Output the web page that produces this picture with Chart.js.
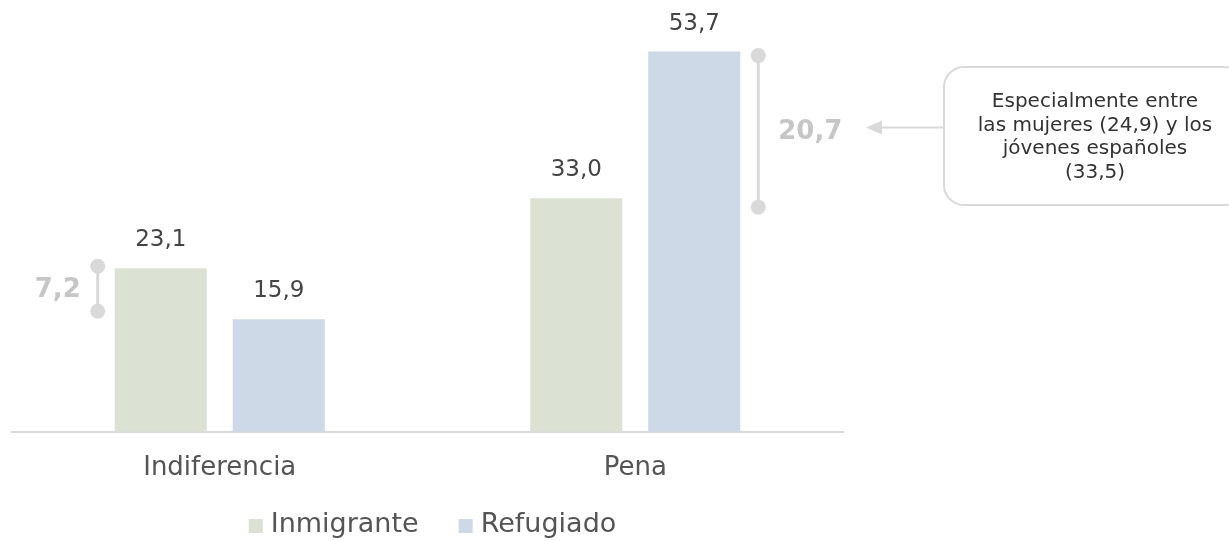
<!DOCTYPE html>
<html>
<head>
<meta charset="utf-8">
<script src="https://cdn.jsdelivr.net/npm/chart.js@4/dist/chart.umd.min.js"></script>
<style>
    body { margin: 0; background: #fff; }
    #wrap { width: 1229px; height: 541px; position: relative; }
</style>
</head>
<body>
<div id="wrap"><canvas id="chart"></canvas></div>
<script>
const categories = ['Indiferencia', 'Pena'];
const seriesNames = ['Inmigrante', 'Refugiado'];
const inmigrante = [23.1, 33.0];
const refugiado = [15.9, 53.7];
const seriesColors = ['#dbe2d4', '#cdd9e7'];
const calloutLines = ['Especialmente entre', 'las mujeres (24,9) y los', 'jóvenes españoles', '(33,5)'];

const FONT = "'DejaVu Sans', sans-serif";
const fmt = v => v.toFixed(1).replace('.', ',');

const overlay = {
    id: 'overlay',
    afterDraw(chart) {
        const ctx = chart.ctx;
        const y = chart.scales.y;
        const area = chart.chartArea;
        const m0 = chart.getDatasetMeta(0).data;
        const m1 = chart.getDatasetMeta(1).data;

        // value labels
        ctx.save();
        ctx.font = '23px ' + FONT;
        ctx.fillStyle = '#444';
        ctx.textAlign = 'center';
        ctx.textBaseline = 'middle';
        [[m0, inmigrante], [m1, refugiado]].forEach(([els, vals]) => {
            els.forEach((el, i) => ctx.fillText(fmt(vals[i]), el.x, el.y - 28));
        });
        ctx.restore();

        // legend
        ctx.save();
        ctx.font = '27px ' + FONT;
        ctx.textBaseline = 'middle';
        const widths = chart.data.datasets.map(ds => 22 + ctx.measureText(ds.label).width);
        const total = widths.reduce((a, b) => a + b, 0) + 40 * (widths.length - 1);
        let lx = (area.left + area.right) / 2 + 5 - total / 2;
        const ly = 525;
        chart.data.datasets.forEach((ds, i) => {
            ctx.fillStyle = ds.backgroundColor;
            ctx.fillRect(lx, ly - 6, 14, 14);
            ctx.fillStyle = '#555';
            ctx.fillText(ds.label, lx + 22, ly);
            lx += widths[i] + 40;
        });
        ctx.restore();

        const bracket = (x, y1, y2) => {
            ctx.save();
            ctx.strokeStyle = '#d9d9d9';
            ctx.fillStyle = '#d9d9d9';
            ctx.lineWidth = 3;
            ctx.beginPath();
            ctx.moveTo(x, y1);
            ctx.lineTo(x, y2);
            ctx.stroke();
            [y1, y2].forEach(yy => {
                ctx.beginPath();
                ctx.arc(x, yy, 7.5, 0, Math.PI * 2);
                ctx.fill();
            });
            ctx.restore();
        };

        const diffLabel = (txt, x, yy, align) => {
            ctx.save();
            ctx.font = 'bold 26px ' + FONT;
            ctx.fillStyle = '#c6c6c6';
            ctx.textAlign = align;
            ctx.textBaseline = 'middle';
            ctx.fillText(txt, x, yy);
            ctx.restore();
        };

        // Indiferencia gap
        const a0 = m0[0];
        const ax = a0.x - a0.width / 2 - 17;
        const ay1 = y.getPixelForValue(inmigrante[0]) - 2;
        const ay2 = y.getPixelForValue(refugiado[0]) - 8;
        bracket(ax, ay1, ay2);
        diffLabel(fmt(inmigrante[0] - refugiado[0]), ax - 17, (ay1 + ay2) / 2 + 2, 'right');

        // Pena gap
        const b1 = m1[1];
        const bx = b1.x + b1.width / 2 + 18;
        const by1 = y.getPixelForValue(refugiado[1]) + 4;
        const by2 = y.getPixelForValue(inmigrante[1]) + 9;
        bracket(bx, by1, by2);
        const midY = (by1 + by2) / 2;
        diffLabel(fmt(refugiado[1] - inmigrante[1]), bx + 20, midY + 1, 'left');

        // arrow to callout
        ctx.save();
        ctx.strokeStyle = '#d9d9d9';
        ctx.fillStyle = '#d9d9d9';
        ctx.lineWidth = 2;
        ctx.beginPath();
        ctx.moveTo(944, midY - 4);
        ctx.lineTo(876, midY - 4);
        ctx.stroke();
        ctx.beginPath();
        ctx.moveTo(866, midY - 4);
        ctx.lineTo(882, midY - 11);
        ctx.lineTo(882, midY + 3);
        ctx.closePath();
        ctx.fill();

        // callout box
        ctx.lineWidth = 2;
        ctx.beginPath();
        ctx.roundRect(944, 67, 300, 138, 20);
        ctx.stroke();
        ctx.font = '20px ' + FONT;
        ctx.fillStyle = '#333';
        ctx.textAlign = 'center';
        ctx.textBaseline = 'middle';
        calloutLines.forEach((t, i) => ctx.fillText(t, 1095, 102 + i * 23.5));
        ctx.restore();
    }
};

new Chart(document.getElementById('chart'), {
    type: 'bar',
    data: {
        labels: categories,
        datasets: [
            { label: seriesNames[0], data: inmigrante, backgroundColor: seriesColors[0] },
            { label: seriesNames[1], data: refugiado, backgroundColor: seriesColors[1] }
        ]
    },
    options: {
        responsive: true,
        maintainAspectRatio: false,
        animation: false,
        layout: { padding: { left: 12, right: 386, top: 7, bottom: 44 } },
        categoryPercentage: 0.568,
        barPercentage: 0.78,
        scales: {
            x: {
                grid: { display: false },
                border: { color: '#d9d9d9', width: 2 },
                ticks: { color: '#555', font: { family: FONT, size: 26 }, padding: 13 }
            },
            y: { display: false, min: 0, max: 60 }
        },
        plugins: {
            legend: { display: false },
            tooltip: { enabled: false }
        }
    },
    plugins: [overlay]
});
</script>
</body>
</html>
